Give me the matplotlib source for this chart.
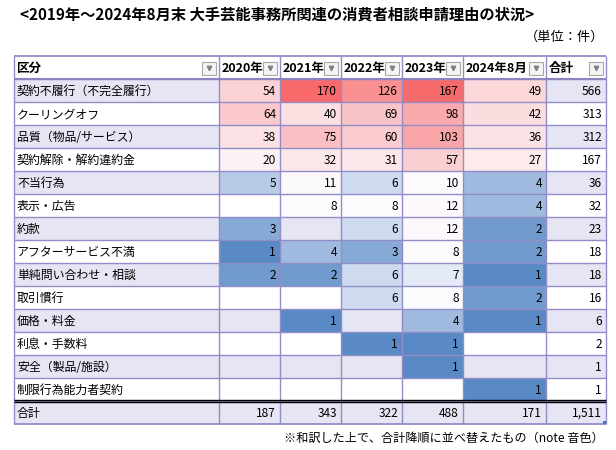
import numpy as np
import matplotlib
matplotlib.use('Agg')
import matplotlib.pyplot as plt
from matplotlib.colors import LinearSegmentedColormap, TwoSlopeNorm
from matplotlib.patches import Rectangle

plt.rcParams['font.family'] = ['Noto Sans CJK JP', 'DejaVu Sans']

# data
title = '<2019年～2024年8月末 大手芸能事務所関連の消費者相談申請理由の状況>'
unit = '（単位：件）'
note = '※和訳した上で、合計降順に並べ替えたもの（note 音色）'
headers = ['区分', '2020年', '2021年', '2022年', '2023年', '2024年8月', '合計']
categories = ['契約不履行（不完全履行）', 'クーリングオフ', '品質（物品/サービス）',
              '契約解除・解約違約金', '不当行為', '表示・広告', '約款',
              'アフターサービス不満', '単純問い合わせ・相談', '取引慣行',
              '価格・料金', '利息・手数料', '安全（製品/施設）', '制限行為能力者契約']
nan = np.nan
y2020 = [54, 64, 38, 20, 5, nan, 3, 1, 2, nan, nan, nan, nan, nan]
y2021 = [170, 40, 75, 32, 11, 8, nan, 4, 2, nan, 1, nan, nan, nan]
y2022 = [126, 69, 60, 31, 6, 8, 6, 3, 6, 6, nan, 1, nan, nan]
y2023 = [167, 98, 103, 57, 10, 12, 12, 8, 7, 8, 4, 1, 1, nan]
y2024 = [49, 42, 36, 27, 4, 4, 2, 2, 1, 2, 1, nan, nan, 1]

vals = np.array([y2020, y2021, y2022, y2023, y2024], dtype=float).T
row_tot = np.nansum(vals, axis=1)
col_tot = np.nansum(vals, axis=0)

# layout (pixels)
col_edges = np.array([14, 219, 280, 341, 402, 463, 546, 606])
row_h = 23
top = 56
n = len(categories)
row_edges = top + row_h * np.arange(n + 3)  # header, rows, total

grid_c = '#928DC8'
stripe_c = '#E6E5F4'

fig = plt.figure(figsize=(6.16, 4.5), dpi=100)
ax = fig.add_axes([0, 0, 1, 1])
ax.set_xlim(0, 616)
ax.set_ylim(450, 0)
ax.axis('off')

# striped rows
for i in range(n + 1):
    if i % 2 == 0:
        y0 = row_edges[i + 1]
        ax.add_patch(Rectangle((col_edges[0], y0), col_edges[-1] - col_edges[0], row_h,
                               facecolor=stripe_c, edgecolor='none', zorder=0))

# colour scale cells (Excel red-white-blue)
cmap = LinearSegmentedColormap.from_list('rwb', ['#5A8AC6', '#FCFCFF', '#F8696B'])
norm = TwoSlopeNorm(vmin=1, vcenter=8, vmax=170)
ax.pcolormesh(col_edges[1:7], row_edges[1:n + 2], np.ma.masked_invalid(vals),
              cmap=cmap, norm=norm, zorder=1)

# grid
ax.hlines(row_edges[1:n + 2], col_edges[0], col_edges[-1], color=grid_c, lw=1.0, zorder=2)
ax.vlines(col_edges, row_edges[0], row_edges[-1], color=grid_c, lw=1.0, zorder=2)
ax.hlines([row_edges[0], row_edges[-1]], col_edges[0], col_edges[-1], color=grid_c, lw=1.3, zorder=2)
ax.hlines(row_edges[1], col_edges[0], col_edges[-1], color='#8A84C0', lw=1.5, zorder=2)
# double line above total
ax.hlines([row_edges[n + 1] - 1.5, row_edges[n + 1] + 1.0], col_edges[0], col_edges[-1],
          color='black', lw=1.0, zorder=3)

fs = 8.6
# header
for j, h in enumerate(headers):
    yc = (row_edges[0] + row_edges[1]) / 2
    ax.text(col_edges[j] + 3, yc + 1, h, ha='left', va='center', fontsize=fs + 0.4,
            fontweight='bold', zorder=4)
    bx = col_edges[j + 1] - 17
    ax.add_patch(Rectangle((bx, yc - 6), 14, 13, facecolor='#F4F4F4', edgecolor='#A8A8A8',
                           lw=0.8, zorder=4))
    ax.plot(bx + 7, yc + 0.5, marker='v', ms=3.2, color='#808080', zorder=5)

# body
for i, cat in enumerate(categories):
    yc = (row_edges[i + 1] + row_edges[i + 2]) / 2 + 1
    ax.text(col_edges[0] + 3, yc, cat, ha='left', va='center', fontsize=fs, zorder=4)
    for j in range(5):
        v = vals[i, j]
        if not np.isnan(v):
            ax.text(col_edges[j + 2] - 4, yc, f'{int(v):,}', ha='right', va='center',
                    fontsize=fs, zorder=4)
    ax.text(col_edges[7] - 4, yc, f'{int(row_tot[i]):,}', ha='right', va='center',
            fontsize=fs, zorder=4)

# total row
yc = (row_edges[n + 1] + row_edges[n + 2]) / 2 + 1
ax.text(col_edges[0] + 3, yc, '合計', ha='left', va='center', fontsize=fs, zorder=4)
for j in range(5):
    ax.text(col_edges[j + 2] - 4, yc, f'{int(col_tot[j]):,}', ha='right', va='center',
            fontsize=fs, zorder=4)
ax.text(col_edges[7] - 4, yc, f'{int(col_tot.sum()):,}', ha='right', va='center',
        fontsize=fs, zorder=4)
ax.add_patch(Rectangle((col_edges[-1] - 3, row_edges[-1] - 3), 3, 3, facecolor='#4472C4',
                       edgecolor='none', zorder=5))

ax.text(20, 15, title, ha='left', va='center', fontsize=11, fontweight='bold')
ax.text(604, 37, unit, ha='right', va='center', fontsize=9.5)
ax.text(604, 438, note, ha='right', va='center', fontsize=8.7)

fig.savefig('out.png', dpi=100)
